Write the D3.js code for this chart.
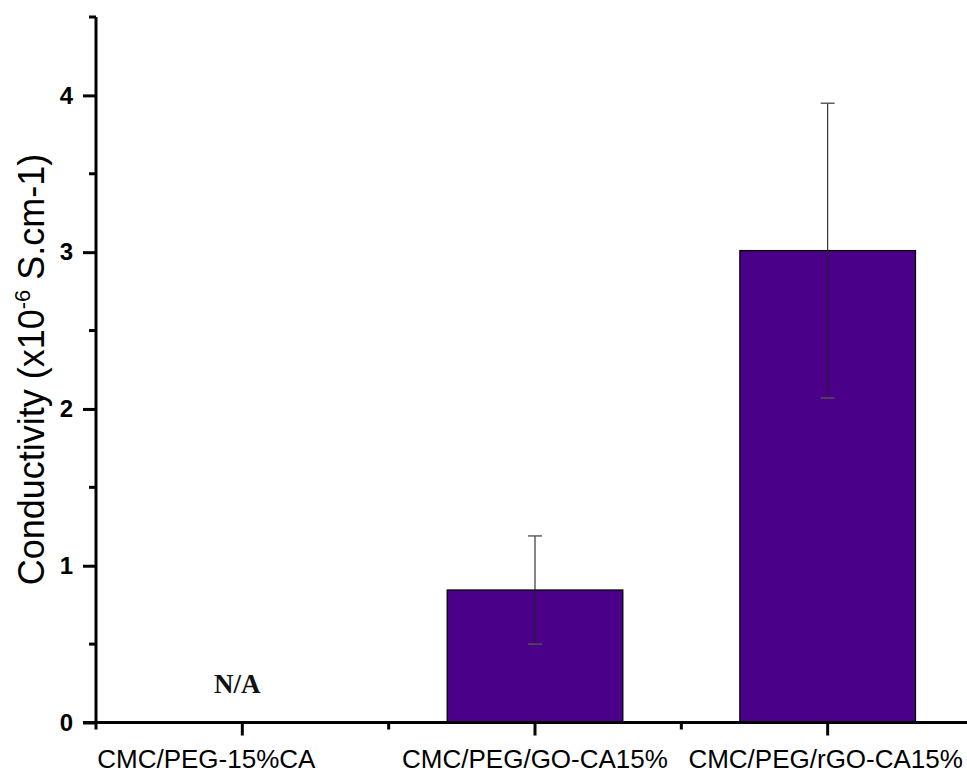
<!DOCTYPE html>
<html>
<head>
<meta charset="utf-8">
<script src="https://cdn.jsdelivr.net/npm/d3@7"></script>
<style>
  html, body { margin: 0; padding: 0; background: #fff; }
  svg { display: block; }
</style>
</head>
<body>
<svg id="chart" width="967" height="772"></svg>
<script>
// Samples, mean conductivity (x10^-6 S/cm) and standard deviation
const categories = ["CMC/PEG-15%CA", "CMC/PEG/GO-CA15%", "CMC/PEG/rGO-CA15%"];
const conductivity = [null, 0.845, 3.01];
const stdDev = [null, 0.345, 0.94];
const yTicks = [0, 1, 2, 3, 4];
const yMinorTicks = [0.5, 1.5, 2.5, 3.5, 4.5];
const missingLabel = "N/A";

const svg = d3.select("#chart");
const W = 967, H = 772;
const plotLeft = 96, plotRight = 974, plotTop = 17, plotBottom = 722.5;

const x = d3.scaleBand().domain(categories).range([plotLeft, plotRight]).paddingInner(0).paddingOuter(0);
const y = d3.scaleLinear().domain([0, 4.5]).range([plotBottom, plotTop]);

const barColor = "#4a0089";
const barW = x.bandwidth() * 0.6;

// Bars
const data = categories.map((c, i) => ({ c, v: conductivity[i], e: stdDev[i] }));
svg.append("g").selectAll("rect")
  .data(data.filter(d => d.v != null))
  .join("rect")
  .attr("x", d => x(d.c) + (x.bandwidth() - barW) / 2)
  .attr("y", d => y(d.v))
  .attr("width", barW)
  .attr("height", d => y(0) - y(d.v))
  .attr("fill", barColor)
  .attr("stroke", "#000")
  .attr("stroke-width", 1.3);

// Error bars
const eg = svg.append("g").attr("stroke", "#222").attr("stroke-width", 1.1).attr("fill", "none");
data.filter(d => d.v != null).forEach(d => {
  const cx = x(d.c) + x.bandwidth() / 2;
  eg.append("line").attr("x1", cx).attr("x2", cx).attr("y1", y(d.v + d.e)).attr("y2", y(d.v - d.e));
  [d.v + d.e, d.v - d.e].forEach(v => {
    eg.append("line").attr("x1", cx - 7).attr("x2", cx + 7).attr("y1", y(v)).attr("y2", y(v))
      .attr("stroke", "#555").attr("stroke-width", 1.4);
  });
});

// Label for samples without a measurement
data.filter(d => d.v == null).forEach(d => {
  svg.append("text")
    .attr("x", x(d.c) + x.bandwidth() / 2 - 5)
    .attr("y", 693)
    .attr("text-anchor", "middle")
    .attr("font-family", "'Liberation Serif', 'Times New Roman', serif")
    .attr("font-weight", "bold")
    .attr("font-size", 27)
    .attr("fill", "#111")
    .text(missingLabel);
});

// Y axis
const yAxis = d3.axisLeft(y).tickValues(yTicks).tickSize(13).tickPadding(10).tickFormat(d3.format("d"));
const yg = svg.append("g").attr("transform", `translate(${plotLeft},0)`).call(yAxis);
yg.select(".domain").attr("stroke", "#000").attr("stroke-width", 3).attr("d", `M0,${plotBottom}V${plotTop}`);
yg.selectAll(".tick line").attr("stroke", "#000").attr("stroke-width", 3);
yg.selectAll(".tick text")
  .attr("font-family", "'Liberation Sans', Arial, sans-serif")
  .attr("font-weight", "bold")
  .attr("font-size", 24)
  .attr("fill", "#000");
yg.selectAll(".minor").data(yMinorTicks).join("line")
  .attr("class", "minor")
  .attr("x1", -7).attr("x2", 0)
  .attr("y1", d => y(d)).attr("y2", d => y(d))
  .attr("stroke", "#000").attr("stroke-width", 3);

// X axis
const xg = svg.append("g").attr("transform", `translate(0,${plotBottom})`);
xg.append("line").attr("x1", plotLeft - 13).attr("x2", W).attr("y1", 0).attr("y2", 0)
  .attr("stroke", "#000").attr("stroke-width", 3);
xg.selectAll(".major").data(categories).join("line")
  .attr("class", "major")
  .attr("x1", d => x(d) + x.bandwidth() / 2).attr("x2", d => x(d) + x.bandwidth() / 2)
  .attr("y1", 0).attr("y2", 13)
  .attr("stroke", "#000").attr("stroke-width", 3);
xg.selectAll(".minor").data(categories).join("line")
  .attr("class", "minor")
  .attr("x1", d => x(d)).attr("x2", d => x(d))
  .attr("y1", 0).attr("y2", 7)
  .attr("stroke", "#000").attr("stroke-width", 3);

// Category labels (first one shifted so it starts at the axis)
const labelShift = [-36, 0, -2];
xg.selectAll(".cat").data(categories).join("text")
  .attr("class", "cat")
  .attr("x", (d, i) => x(d) + x.bandwidth() / 2 + labelShift[i])
  .attr("y", 45)
  .attr("text-anchor", "middle")
  .attr("font-family", "'Liberation Sans', Arial, sans-serif")
  .attr("font-size", 26)
  .attr("fill", "#000")
  .text(d => d);

// Y axis title
const title = svg.append("text")
  .attr("transform", `translate(44,${(152 + 587) / 2}) rotate(-90)`)
  .attr("text-anchor", "middle")
  .attr("font-family", "'Liberation Sans', Arial, sans-serif")
  .attr("font-size", 36)
  .attr("fill", "#000");
title.append("tspan").text("Conductivity (x10");
title.append("tspan").attr("dy", -14).attr("font-size", 22).text("-6");
title.append("tspan").attr("dy", 14).text(" S.cm-1)");
</script>
</body>
</html>
